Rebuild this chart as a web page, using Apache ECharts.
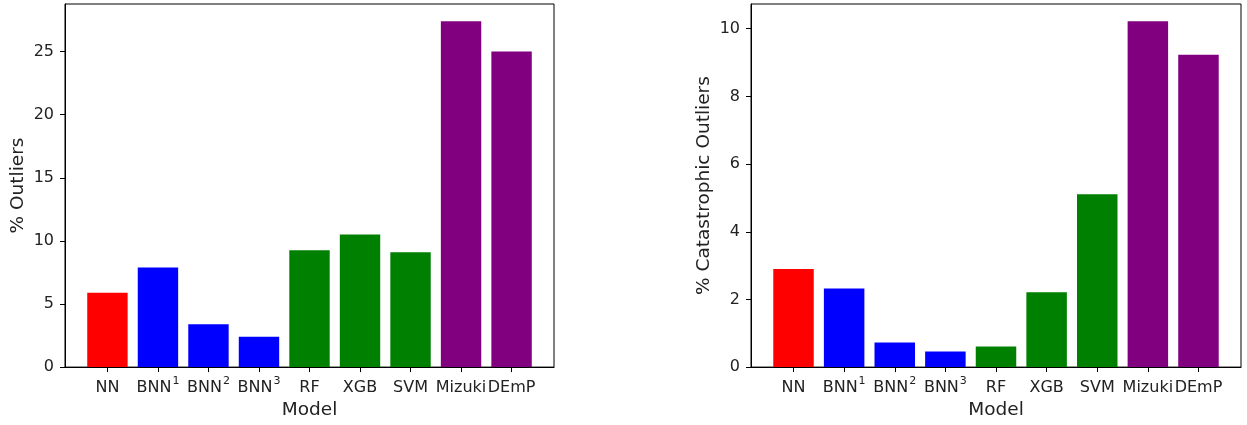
<!DOCTYPE html>
<html>
<head>
<meta charset="utf-8">
<script src="https://cdn.jsdelivr.net/npm/echarts@6/dist/echarts.min.js"></script>
<style>
  html, body { margin: 0; padding: 0; background: #fff; }
  #echarts { width: 1247px; height: 425px; }
</style>
</head>
<body>
<div id="echarts"></div>
<script>
// Model names, with the BNN variant number as superscript
const models = ['NN', 'BNN', 'BNN', 'BNN', 'RF', 'XGB', 'SVM', 'Mizuki', 'DEmP'];
const modelSup = ['', '1', '2', '3', '', '', '', '', ''];
const groups = ['nn', 'bnn', 'bnn', 'bnn', 'ml', 'ml', 'ml', 'ext', 'ext'];

const outliers = [5.9, 7.9, 3.4, 2.4, 9.25, 10.5, 9.1, 27.4, 25.0];
const catastrophic = [2.9, 2.32, 0.73, 0.46, 0.61, 2.21, 5.11, 10.22, 9.23];

const outlierTicks = [0, 5, 10, 15, 20, 25];
const catastrophicTicks = [0, 2, 4, 6, 8, 10];

const groupColors = { nn: '#ff0000', bnn: '#0000ff', ml: '#008000', ext: '#800080' };

const FONT = 'DejaVu Sans';
const TEXT = '#222';

const chart = echarts.init(document.getElementById('echarts'));

function modelLabel(v) {
    const i = Math.round(v);
    const sup = modelSup[i] ? `{s|${modelSup[i]}}` : '';
    return `{n|${models[i]}}${sup}`;
}

function xAxisFor(gridIndex) {
    const idx = models.map((m, i) => i);
    return {
        type: 'value',
        gridIndex,
        min: -0.84,
        max: models.length - 1 + 0.84,
        name: 'Model',
        nameLocation: 'middle',
        nameGap: 33,
        nameTextStyle: { fontFamily: FONT, fontSize: 18.5, color: TEXT },
        axisLine: { show: true, onZero: false, lineStyle: { color: '#000', width: 1 } },
        axisTick: { show: true, length: 5, customValues: idx, lineStyle: { color: '#000' } },
        axisLabel: {
            margin: 9,
            customValues: idx,
            formatter: modelLabel,
            rich: {
                n: { fontFamily: FONT, fontSize: 16, color: TEXT, lineHeight: 20, verticalAlign: 'bottom' },
                s: { fontFamily: FONT, fontSize: 11, color: TEXT, lineHeight: 10, verticalAlign: 'top', padding: [0, 0, 0, 1] }
            }
        },
        splitLine: { show: false }
    };
}

function yAxisFor(gridIndex, name, ticks, max) {
    return {
        type: 'value',
        gridIndex,
        min: 0,
        max,
        name,
        nameLocation: 'middle',
        nameGap: 37,
        nameTextStyle: { fontFamily: FONT, fontSize: 18.5, color: TEXT },
        axisLine: { show: true, onZero: false, lineStyle: { color: '#000', width: 1 } },
        axisTick: { show: true, length: 5, customValues: ticks, lineStyle: { color: '#000' } },
        axisLabel: {
            margin: 11,
            customValues: ticks,
            fontFamily: FONT, fontSize: 16, color: TEXT
        },
        splitLine: { show: false }
    };
}

function barSeries(index, values, barWidth) {
    return {
        type: 'bar',
        xAxisIndex: index,
        yAxisIndex: index,
        barWidth,
        silent: true,
        data: values.map((v, i) => ({
            value: [i, v],
            itemStyle: { color: groupColors[groups[i]] }
        }))
    };
}

const option = {
    animation: false,
    backgroundColor: '#fff',
    grid: [
        { left: 65, right: 693, top: 4, bottom: 56, show: true, borderColor: '#000', borderWidth: 1, backgroundColor: 'transparent' },
        { left: 751, right: 6, top: 4, bottom: 56, show: true, borderColor: '#000', borderWidth: 1, backgroundColor: 'transparent' }
    ],
    xAxis: [xAxisFor(0), xAxisFor(1)],
    yAxis: [
        yAxisFor(0, '% Outliers', outlierTicks, 27.4 * 1.05),
        yAxisFor(1, '% Catastrophic Outliers', catastrophicTicks, 10.22 * 1.05)
    ],
    series: [
        barSeries(0, outliers, 40.4),
        barSeries(1, catastrophic, 40.5)
    ]
};

chart.setOption(option);
</script>
</body>
</html>
